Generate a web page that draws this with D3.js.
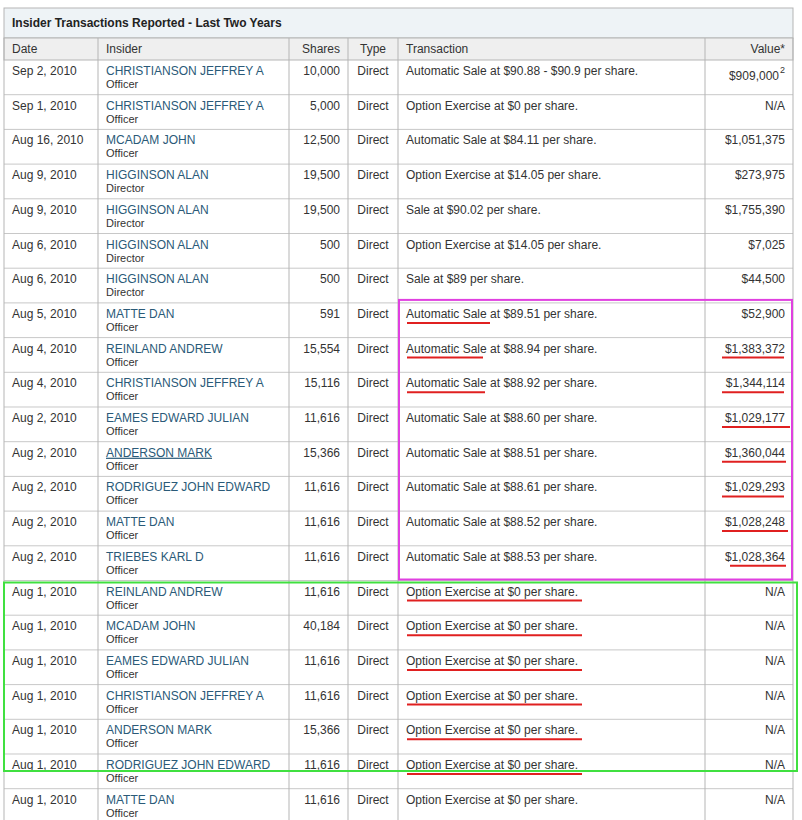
<!DOCTYPE html>
<html><head><meta charset="utf-8">
<script src="https://cdn.jsdelivr.net/npm/d3@7"></script>
<style>body{margin:0;background:#fff}</style>
</head><body>
<script>
// table data
var dates = ["Sep 2, 2010","Sep 1, 2010","Aug 16, 2010","Aug 9, 2010","Aug 9, 2010","Aug 6, 2010","Aug 6, 2010","Aug 5, 2010","Aug 4, 2010","Aug 4, 2010","Aug 2, 2010","Aug 2, 2010","Aug 2, 2010","Aug 2, 2010","Aug 2, 2010","Aug 1, 2010","Aug 1, 2010","Aug 1, 2010","Aug 1, 2010","Aug 1, 2010","Aug 1, 2010","Aug 1, 2010"];
var insiders = ["CHRISTIANSON JEFFREY A","CHRISTIANSON JEFFREY A","MCADAM JOHN","HIGGINSON ALAN","HIGGINSON ALAN","HIGGINSON ALAN","HIGGINSON ALAN","MATTE DAN","REINLAND ANDREW","CHRISTIANSON JEFFREY A","EAMES EDWARD JULIAN","ANDERSON MARK","RODRIGUEZ JOHN EDWARD","MATTE DAN","TRIEBES KARL D","REINLAND ANDREW","MCADAM JOHN","EAMES EDWARD JULIAN","CHRISTIANSON JEFFREY A","ANDERSON MARK","RODRIGUEZ JOHN EDWARD","MATTE DAN"];
var roles = ["Officer","Officer","Officer","Director","Director","Director","Director","Officer","Officer","Officer","Officer","Officer","Officer","Officer","Officer","Officer","Officer","Officer","Officer","Officer","Officer","Officer"];
var shares = ["10,000","5,000","12,500","19,500","19,500","500","500","591","15,554","15,116","11,616","15,366","11,616","11,616","11,616","11,616","40,184","11,616","11,616","15,366","11,616","11,616"];
var types = dates.map(function(){ return "Direct"; });
var transactions = ["Automatic Sale at $90.88 - $90.9 per share.","Option Exercise at $0 per share.","Automatic Sale at $84.11 per share.","Option Exercise at $14.05 per share.","Sale at $90.02 per share.","Option Exercise at $14.05 per share.","Sale at $89 per share.","Automatic Sale at $89.51 per share.","Automatic Sale at $88.94 per share.","Automatic Sale at $88.92 per share.","Automatic Sale at $88.60 per share.","Automatic Sale at $88.51 per share.","Automatic Sale at $88.61 per share.","Automatic Sale at $88.52 per share.","Automatic Sale at $88.53 per share.","Option Exercise at $0 per share.","Option Exercise at $0 per share.","Option Exercise at $0 per share.","Option Exercise at $0 per share.","Option Exercise at $0 per share.","Option Exercise at $0 per share.","Option Exercise at $0 per share."];
var values = ["$909,000","N/A","$1,051,375","$273,975","$1,755,390","$7,025","$44,500","$52,900","$1,383,372","$1,344,114","$1,029,177","$1,360,044","$1,029,293","$1,028,248","$1,028,364","N/A","N/A","N/A","N/A","N/A","N/A","N/A"];
var columns = ["Date","Insider","Shares","Type","Transaction","Value*"];
var colEdges = [4,98,289,348,398,705,793];
var colAlign = ["start","start","end","middle","start","end"];
// red pen marks: [row, x0, x1]
var penMarks = [[7,407,490],[8,407,483],[9,407,485],[8,722,784],[9,722,784],[10,722,790],[11,722,786],[12,722,784],[13,722,788],[14,730,786],
  [15,407,582],[16,407,582],[17,407,582],[18,407,582],[19,407,582],[20,407,582]];

var W = 802, H = 820, titleH = 30, headH = 22, top0 = 8;
var svg = d3.select("body").append("svg").attr("width", W).attr("height", H)
  .style("font-family","Arial, 'Liberation Sans', sans-serif").style("font-size","12px");

var y = d3.scaleBand().domain(d3.range(dates.length)).range([top0+titleH+headH, top0+titleH+headH+34.7*dates.length]);

// title bar
svg.append("rect").attr("x",colEdges[0]).attr("y",top0).attr("width",colEdges[6]-colEdges[0]).attr("height",titleH)
  .attr("fill","#eef3f6").attr("stroke","#b5b5b5");
svg.append("text").attr("x",12).attr("y",top0+19).attr("font-weight","bold").attr("fill","#222")
  .text("Insider Transactions Reported - Last Two Years");

// header
var hy = top0+titleH;
svg.append("rect").attr("x",colEdges[0]).attr("y",hy).attr("width",colEdges[6]-colEdges[0]).attr("height",headH)
  .attr("fill","#efefef").attr("stroke","#b5b5b5");

function tx(i){ return colAlign[i]=="start" ? colEdges[i]+8 : colAlign[i]=="end" ? colEdges[i+1]-8 : (colEdges[i]+colEdges[i+1])/2; }

columns.forEach(function(c,i){
  svg.append("text").attr("x",tx(i)).attr("y",hy+15).attr("text-anchor",colAlign[i]).attr("fill","#333").text(c);
});

// rows
var rows = svg.selectAll("g.row").data(d3.range(dates.length)).enter().append("g")
  .attr("transform", function(i){ return "translate(0,"+y(i)+")"; });
rows.append("line").attr("x1",colEdges[0]).attr("x2",colEdges[6]).attr("y1",y.bandwidth()).attr("y2",y.bandwidth()).attr("stroke","#c8c8c8");
rows.append("text").attr("x",tx(0)).attr("y",15).attr("fill","#333").text(function(i){ return dates[i]; });
rows.append("text").attr("x",tx(1)).attr("y",15).attr("fill","#2a5a78")
  .attr("text-decoration",function(i){ return i==11 ? "underline" : null; }).text(function(i){ return insiders[i]; });
rows.append("text").attr("x",tx(1)).attr("y",28).attr("font-size","11px").attr("fill","#333").text(function(i){ return roles[i]; });
rows.append("text").attr("x",tx(2)).attr("y",15).attr("text-anchor","end").attr("fill","#333").text(function(i){ return shares[i]; });
rows.append("text").attr("x",tx(3)).attr("y",15).attr("text-anchor","middle").attr("fill","#333").text(function(i){ return types[i]; });
rows.append("text").attr("x",tx(4)).attr("y",15).attr("fill","#333").text(function(i){ return transactions[i]; });
rows.append("text").attr("x",function(i){ return i==0 ? tx(5)-6 : tx(5); }).attr("y",function(i){ return i==0 ? 20 : 15; })
  .attr("text-anchor","end").attr("fill","#333").text(function(i){ return values[i]; });
rows.filter(function(i){ return i==0; }).append("text").attr("x",tx(5)-5).attr("y",13).attr("font-size","9px").attr("fill","#333").text("2");

// vertical grid lines
colEdges.forEach(function(x){
  svg.append("line").attr("x1",x).attr("x2",x).attr("y1",hy).attr("y2",H).attr("stroke","#b5b5b5");
});

// annotations
svg.append("rect").attr("x",399).attr("y",y(7)-3).attr("width",393).attr("height",y(15)-y(7)+2)
  .attr("fill","none").attr("stroke","#e040e0").attr("stroke-width",2);
svg.append("rect").attr("x",4).attr("y",y(15)+2).attr("width",793).attr("height",y(20)+17-y(15)-2)
  .attr("fill","none").attr("stroke","#40e040").attr("stroke-width",2);
svg.selectAll("line.pen").data(penMarks).enter().append("line")
  .attr("x1",function(d){ return d[1]; }).attr("x2",function(d){ return d[2]; })
  .attr("y1",function(d){ return y(d[0])+20; }).attr("y2",function(d){ return y(d[0])+20; })
  .attr("stroke","#e02020").attr("stroke-width",2);
</script>
</body></html>
